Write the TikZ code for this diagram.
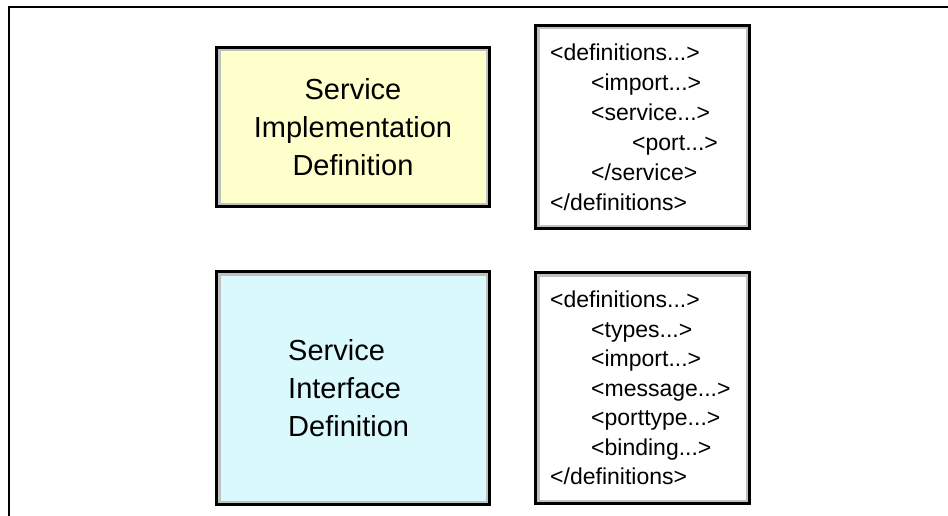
\documentclass[tikz,border=0pt]{standalone}
\usepackage{fontspec}
\setmainfont{Liberation Sans}
\usepackage{tikz}
\usetikzlibrary{positioning}
\definecolor{implYellow}{HTML}{FFFFCC}
\definecolor{ifaceCyan}{HTML}{D9F9FC}
\definecolor{bevelGray}{HTML}{C0C0C0}

\begin{document}
\begin{tikzpicture}[
  x=1pt, y=-1pt,
  every node/.style={font=\rmfamily},
  defbox/.style={
    rectangle, draw=black, line width=2.2pt,
    fill=#1, inner sep=0pt,
    path picture={
      \draw[bevelGray, line width=8pt]
        (path picture bounding box.south west) rectangle
        (path picture bounding box.north east);
    }
  },
  deflabel/.style={
    font=\fontsize{29}{38}\selectfont, inner sep=0pt
  },
  codelabel/.style={
    font=\fontsize{23}{30}\selectfont, align=left,
    anchor=west, inner sep=0pt
  },
]
\useasboundingbox (0,0) rectangle (948,516);

% === OUTER FRAME ===
\draw[line width=2pt] (948,7) -- (9,7) -- (9,516);

% === IMPLEMENTATION ROW ===
\node[defbox=implYellow, minimum width=273pt, minimum height=159pt] (impl) at (353,127) {};
\node[deflabel, align=center] (impltext) at (impl.center) {Service\\Implementation\\Definition};

\node[defbox=white, minimum width=214pt, minimum height=203pt] (implcode) at (642.5,127) {};
\node[codelabel] (implxml) at (550,127) {
  <definitions...>\\
  \hspace*{41pt}<import...>\\
  \hspace*{41pt}<service...>\\
  \hspace*{82pt}<port...>\\
  \hspace*{41pt}</service>\\
  </definitions>
};

% === INTERFACE ROW ===
\node[defbox=ifaceCyan, minimum width=273pt, minimum height=233pt] (iface) at (353,388) {};
\node[deflabel, align=left, anchor=west] (ifacetext) at (288,388) {Service\\Interface\\Definition};

\node[defbox=white, minimum width=214pt, minimum height=231pt] (ifacecode) at (642.5,388) {};
\node[codelabel, font=\fontsize{23}{29.5}\selectfont] (ifacexml) at (550,388) {
  <definitions...>\\
  \hspace*{41pt}<types...>\\
  \hspace*{41pt}<import...>\\
  \hspace*{41pt}<message...>\\
  \hspace*{41pt}<porttype...>\\
  \hspace*{41pt}<binding...>\\
  </definitions>
};

\end{tikzpicture}
\end{document}
